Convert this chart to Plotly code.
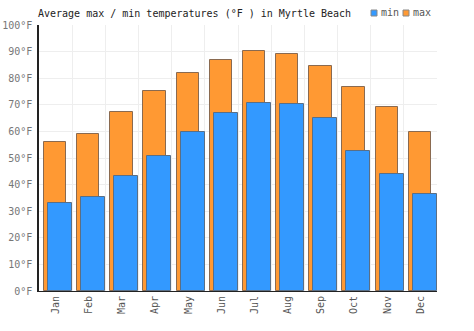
import plotly.graph_objects as go

months = ["Jan", "Feb", "Mar", "Apr", "May", "Jun", "Jul", "Aug", "Sep", "Oct", "Nov", "Dec"]
max_temps = [56.0, 59.2, 67.3, 75.2, 82.0, 86.8, 90.1, 89.0, 84.5, 76.6, 69.2, 59.9]
min_temps = [33.2, 35.4, 43.2, 50.8, 59.7, 67.0, 70.6, 70.3, 65.0, 52.7, 44.0, 36.5]
y_ticks = [0, 10, 20, 30, 40, 50, 60, 70, 80, 90, 100]
y_labels = [f"{v}°F" for v in y_ticks]

FONT = "DejaVu Sans Mono"
W, H = 474, 331
BLUE, ORANGE = "#3399FF", "#FF9933"

fig = go.Figure()
fig.add_trace(go.Bar(
    x=months, y=max_temps, name="max",
    marker=dict(color=ORANGE, line=dict(color="#8a6a50", width=1)),
    offset=-0.35, width=0.67,
))
fig.add_trace(go.Bar(
    x=months, y=min_temps, name="min",
    marker=dict(color=BLUE, line=dict(color="#5a6f86", width=1)),
    offset=-0.23, width=0.72,
))

# legend drawn in paper pixels (top-right)
def px(x):
    return x / W

def py(y):
    return 1 - y / H

shapes = []
annotations = []
for name, color, x0 in [("min", BLUE, 371), ("max", ORANGE, 403)]:
    shapes.append(dict(type="rect", xref="paper", yref="paper",
                       x0=(x0 - 39) / (437 - 39), x1=(x0 + 6 - 39) / (437 - 39),
                       y0=(291 - 16) / (291 - 25), y1=(291 - 10) / (291 - 25),
                       fillcolor=color, line=dict(color="#888", width=1)))
    annotations.append(dict(text=name, xref="paper", yref="paper",
                            x=(x0 + 8 - 39) / (437 - 39), y=(291 - 13) / (291 - 25),
                            xanchor="left", yanchor="middle", showarrow=False,
                            font=dict(family=FONT, size=10, color="#555")))

fig.update_layout(
    width=W, height=H,
    margin=dict(l=39, r=37, t=25, b=40, autoexpand=False),
    barmode="overlay",
    plot_bgcolor="white", paper_bgcolor="white",
    font=dict(family=FONT, size=10, color="#555"),
    title=dict(text="Average max / min temperatures (°F ) in Myrtle Beach",
               x=38 / W, xanchor="left", y=1 - 13 / H, yanchor="middle",
               font=dict(family=FONT, size=10, color="#222")),
    showlegend=False,
    shapes=shapes,
    annotations=annotations,
    bargap=0,
)
fig.update_xaxes(
    tickson="boundaries", showgrid=True, gridcolor="#eeeeee", gridwidth=1,
    tickangle=-90, showline=True, linecolor="#222", linewidth=1,
    ticks="", range=[-0.5, 11.5], automargin=False,
)
fig.update_yaxes(
    range=[0, 100], tickvals=y_ticks, ticktext=y_labels,
    showgrid=True, gridcolor="#eeeeee", gridwidth=1,
    showline=True, linecolor="#222", linewidth=1.5, zeroline=False,
    ticks="", ticklabelstandoff=3, automargin=False,
    tickfont=dict(color="#777"),
)

fig.write_html("out.html")
